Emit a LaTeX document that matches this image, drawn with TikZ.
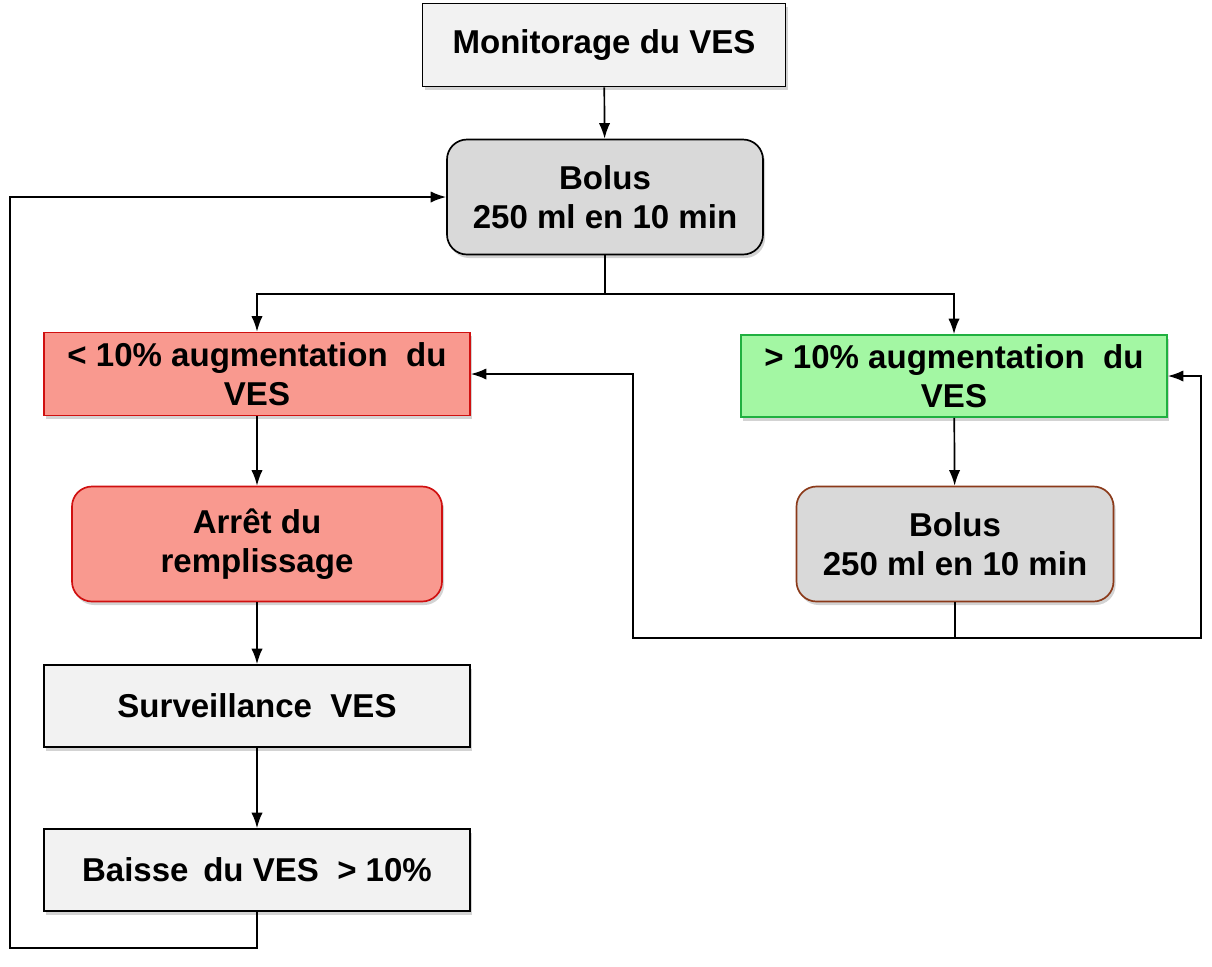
\documentclass[tikz,border=0pt]{standalone}
\usepackage{fontspec}
\setmainfont{Liberation Sans}
\usepackage{tikz}
\usetikzlibrary{arrows,arrows.meta,calc,shapes,shadows}
\tikzset{>={Latex[length=11pt,width=8pt]}}
\definecolor{boxgray}{HTML}{F2F2F2}
\definecolor{bolusgray}{HTML}{D9D9D9}
\definecolor{redfill}{HTML}{F9998F}
\definecolor{redline}{HTML}{D01010}
\definecolor{greenfill}{HTML}{A3F7A3}
\definecolor{greenline}{HTML}{20B040}
\definecolor{brownline}{HTML}{8B3A1A}
\tikzstyle{step box}=[rectangle,draw=black,fill=boxgray,line width=1.2pt,align=center,font=\fontsize{23.5}{28}\selectfont\bfseries,drop shadow={opacity=0.35,shadow xshift=1.5pt,shadow yshift=-2.5pt}]
\tikzstyle{bolus}=[step box,rounded corners=0.5cm,fill=bolusgray]
\tikzstyle{low}=[step box,draw=redline,fill=redfill]
\tikzstyle{high}=[step box,draw=greenline,fill=greenfill]
\tikzstyle{link}=[->,line width=1.2pt]

\begin{document}
\begin{tikzpicture}[inner sep=1mm]
	\useasboundingbox (0,0) rectangle (30.3,-24.15);

	\node[step box,minimum width=9.075cm,minimum height=2.075cm] (monit) at (15.1,-1.125) {Monitorage du VES};
	\node[bolus,minimum width=7.9cm,minimum height=2.875cm] (bolus1) at (15.125,-4.925) {Bolus\\250 ml en 10 min};

	\node[low,minimum width=10.65cm,minimum height=2.075cm] (less) at (6.425,-9.35) {< 10\% augmentation \ du\\VES};
	\node[high,minimum width=10.65cm,minimum height=2.05cm] (more) at (23.85,-9.4) {> 10\% augmentation \ du\\VES};

	\node[low,rounded corners=0.5cm,minimum width=9.25cm,minimum height=2.875cm] (stop) at (6.425,-13.6) {Arrêt du\\remplissage};
	\node[bolus,draw=brownline,minimum width=7.925cm,minimum height=2.875cm] (bolus2) at (23.875,-13.6) {Bolus\\250 ml en 10 min};

	\node[step box,minimum width=10.65cm,minimum height=2.05cm] (watch) at (6.425,-17.65) {Surveillance \ VES};
	\node[step box,minimum width=10.65cm,minimum height=2.05cm] (drop) at (6.425,-21.75) {Baisse \,du VES \ > 10\%};

	\coordinate (split) at (15.125,-7.35);
	\coordinate (loopL) at (0.25,-23.7);
	\coordinate (back) at (15.825,-15.95);
	\coordinate (backR) at (30.025,-15.95);

	\draw[link] (monit) -- (bolus1);
	\draw[link] (bolus1.south) -- (split) -| (less.north);
	\draw[link] (split) -| (more.north);
	\draw[link] (less) -- (stop);
	\draw[link] (more) -- (bolus2);
	\draw[link] (stop) -- (watch);
	\draw[link] (watch) -- (drop);
	\draw[link] (drop.south) |- (loopL) |- (bolus1.west);
	\draw[link] (bolus2.south) |- (back) |- (less.east);
	\draw[link] (bolus2.south) |- (backR) |- (more.east);
\end{tikzpicture}
\end{document}
